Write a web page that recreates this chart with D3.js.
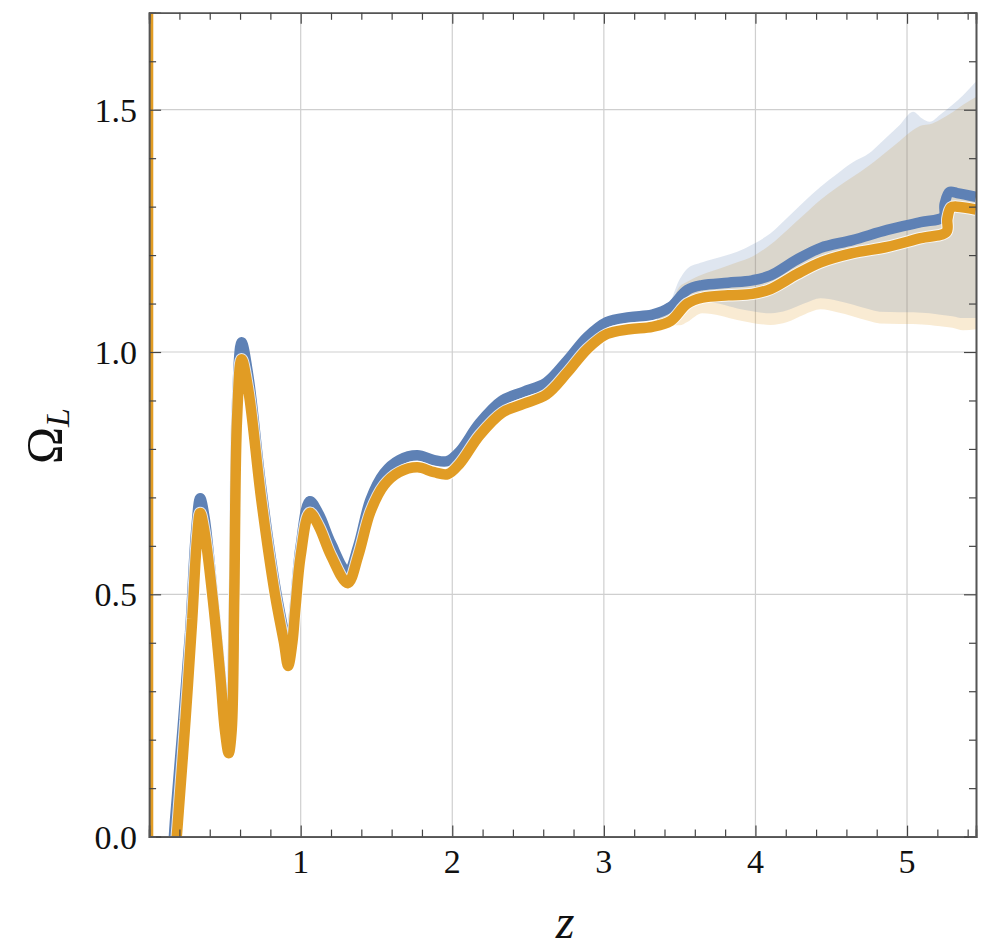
<!DOCTYPE html>
<html>
<head>
<meta charset="utf-8">
<script src="https://cdn.jsdelivr.net/npm/d3@7"></script>
<style>
  body { margin: 0; background: #fff; }
  text { fill: #111; }
</style>
</head>
<body>
<div id="chart"></div>
<script>
// series values
const blueZ = [0.155, 0.17, 0.22, 0.27, 0.31, 0.337, 0.365, 0.42, 0.47, 0.5, 0.522, 0.54, 0.56, 0.578, 0.61, 0.655, 0.74, 0.83, 0.89, 0.917, 0.94, 0.96, 1.0, 1.06, 1.12, 1.2, 1.31, 1.38, 1.46, 1.55, 1.65, 1.77, 1.88, 1.97, 2.05, 2.18, 2.33, 2.47, 2.62, 2.76, 2.89, 3.02, 3.17, 3.32, 3.44, 3.55, 3.65, 3.82, 3.98, 4.1, 4.27, 4.43, 4.64, 4.87, 5.09, 5.24, 5.248, 5.28, 5.33, 5.455];
const blueV = [-0.05, 0.03, 0.22, 0.42, 0.63, 0.698, 0.66, 0.5, 0.34, 0.24, 0.2, 0.24, 0.5, 0.88, 1.02, 0.95, 0.72, 0.52, 0.42, 0.38, 0.41, 0.47, 0.6, 0.692, 0.665, 0.605, 0.545, 0.6, 0.695, 0.75, 0.777, 0.787, 0.777, 0.775, 0.795, 0.853, 0.9, 0.918, 0.937, 0.983, 1.031, 1.062, 1.072, 1.077, 1.093, 1.128, 1.138, 1.143, 1.148, 1.158, 1.19, 1.215, 1.231, 1.252, 1.268, 1.279, 1.305, 1.33, 1.328, 1.32];

// null marks a break in the orange curve (it shoots off near z = 0)
const orangeZ = [-0.007, -0.007, null, 0.17, 0.19, 0.24, 0.285, 0.315, 0.337, 0.365, 0.42, 0.47, 0.5, 0.525, 0.545, 0.562, 0.58, 0.61, 0.655, 0.74, 0.83, 0.89, 0.917, 0.945, 0.965, 1.0, 1.06, 1.12, 1.2, 1.31, 1.38, 1.46, 1.55, 1.65, 1.77, 1.88, 1.97, 2.05, 2.18, 2.33, 2.47, 2.62, 2.76, 2.89, 3.02, 3.17, 3.32, 3.44, 3.55, 3.65, 3.82, 3.98, 4.1, 4.27, 4.43, 4.64, 4.87, 5.09, 5.26, 5.266, 5.29, 5.33, 5.455];
const orangeV = [1.8, -0.1, null, -0.05, 0.03, 0.24, 0.45, 0.61, 0.668, 0.63, 0.49, 0.33, 0.22, 0.172, 0.22, 0.5, 0.86, 0.985, 0.92, 0.695, 0.5, 0.4, 0.352, 0.4, 0.47, 0.58, 0.668, 0.64, 0.58, 0.523, 0.58, 0.67, 0.725, 0.752, 0.762, 0.752, 0.748, 0.77, 0.828, 0.875, 0.893, 0.912, 0.958, 1.006, 1.037, 1.047, 1.052, 1.064, 1.1, 1.112, 1.117, 1.12, 1.13, 1.16, 1.185, 1.204, 1.217, 1.235, 1.248, 1.275, 1.298, 1.3, 1.294];

// uncertainty bands
const bandZ = [3.35, 3.42, 3.5, 3.55, 3.65, 3.77, 3.88, 3.98, 4.1, 4.21, 4.32, 4.43, 4.54, 4.64, 4.75, 4.82, 4.95, 5.04, 5.1, 5.15, 5.22, 5.3, 5.37, 5.455];
const blueHi = [1.08, 1.092, 1.15, 1.172, 1.185, 1.196, 1.207, 1.222, 1.245, 1.277, 1.31, 1.341, 1.368, 1.391, 1.41, 1.43, 1.468, 1.496, 1.482, 1.475, 1.49, 1.51, 1.53, 1.558];
const blueLo = [1.06, 1.062, 1.07, 1.09, 1.104, 1.099, 1.09, 1.084, 1.08, 1.086, 1.1, 1.111, 1.106, 1.098, 1.088, 1.083, 1.082, 1.082, 1.081, 1.08, 1.077, 1.074, 1.07, 1.07];
const orangeHi = [1.075, 1.085, 1.135, 1.145, 1.16, 1.173, 1.185, 1.197, 1.222, 1.252, 1.283, 1.314, 1.34, 1.361, 1.385, 1.402, 1.435, 1.458, 1.468, 1.47, 1.48, 1.495, 1.51, 1.526];
const orangeLo = [1.055, 1.055, 1.055, 1.062, 1.08, 1.075, 1.066, 1.06, 1.056, 1.062, 1.077, 1.088, 1.082, 1.074, 1.064, 1.059, 1.058, 1.058, 1.057, 1.056, 1.053, 1.05, 1.045, 1.047];

// ticks
const xMajor = [1, 2, 3, 4, 5];
const xLabels = ["1", "2", "3", "4", "5"];
const yMajor = [0, 0.5, 1.0, 1.5];
const yLabels = ["0.0", "0.5", "1.0", "1.5"];
const xGrid = [1, 2, 3, 4, 5];
const yGrid = [0.5, 1.0, 1.5];

const width = 986, height = 949;
const blue = "#5e81b5", orange = "#e19c24";
const serif = "'Liberation Serif', 'Times New Roman', Times, serif";

const svg = d3.select("#chart").append("svg")
    .attr("width", width)
    .attr("height", height);

const x = d3.scaleLinear().domain([0, 5.455]).range([149.1, 976]);
const y = d3.scaleLinear().domain([0, 1.7]).range([836.6, 12.8]);

svg.append("defs").append("clipPath").attr("id", "plot")
  .append("rect")
    .attr("x", x(0)).attr("y", y(1.7))
    .attr("width", x(5.455) - x(0)).attr("height", y(0) - y(1.7));

// grid lines
svg.append("g").selectAll("line").data(xGrid).join("line")
    .attr("x1", d => x(d)).attr("x2", d => x(d))
    .attr("y1", y(0)).attr("y2", y(1.7))
    .attr("stroke", "#cfcfcf").attr("stroke-width", 1.2);
svg.append("g").selectAll("line").data(yGrid).join("line")
    .attr("x1", x(0)).attr("x2", x(5.455))
    .attr("y1", d => y(d)).attr("y2", d => y(d))
    .attr("stroke", "#cfcfcf").attr("stroke-width", 1.2);

const plot = svg.append("g").attr("clip-path", "url(#plot)");

// bands
const orangeBand = bandZ.map((z, i) => ({z, lo: orangeLo[i], hi: orangeHi[i]}));
const blueBand = bandZ.map((z, i) => ({z, lo: blueLo[i], hi: blueHi[i]}));
const area = d3.area()
    .x(d => x(d.z)).y0(d => y(d.lo)).y1(d => y(d.hi))
    .curve(d3.curveMonotoneX);

plot.append("path").datum(orangeBand)
    .attr("d", area).attr("fill", orange).attr("fill-opacity", 0.2);
plot.append("path").datum(blueBand)
    .attr("d", area).attr("fill", blue).attr("fill-opacity", 0.2);

// lines
const blueData = blueZ.map((z, i) => ({z, v: blueV[i]}));
const orangeData = orangeZ.map((z, i) => ({z, v: orangeV[i]}));
const line = d3.line()
    .defined(d => d.z !== null)
    .x(d => x(d.z)).y(d => y(d.v))
    .curve(d3.curveCatmullRom.alpha(0.5));

plot.append("path").datum(blueData)
    .attr("d", line).attr("fill", "none")
    .attr("stroke", blue).attr("stroke-width", 10.5)
    .attr("stroke-linejoin", "bevel");
plot.append("path").datum(orangeData)
    .attr("d", line).attr("fill", "none")
    .attr("stroke", "#fff").attr("stroke-width", 12.5)
    .attr("stroke-linejoin", "bevel").attr("stroke-opacity", 0.8);
plot.append("path").datum(orangeData)
    .attr("d", line).attr("fill", "none")
    .attr("stroke", orange).attr("stroke-width", 10.5)
    .attr("stroke-linejoin", "bevel");

// frame with inward ticks
const frame = svg.append("g");
const xMinor = d3.range(0.2, 5.45, 0.2).filter(d => Math.abs(d - Math.round(d)) > 0.01);
const yMinor = d3.range(0.1, 1.7, 0.1).filter(d => Math.abs(d * 2 - Math.round(d * 2)) > 0.01);

frame.append("g").attr("transform", `translate(0,${y(0)})`)
    .call(d3.axisBottom(x).tickValues(xMajor).tickSize(-11).tickFormat(""));
frame.append("g").attr("transform", `translate(0,${y(0)})`)
    .call(d3.axisBottom(x).tickValues(xMinor).tickSize(-7).tickFormat(""));
frame.append("g").attr("transform", `translate(0,${y(1.7)})`)
    .call(d3.axisTop(x).tickValues(xMajor).tickSize(-11).tickFormat(""));
frame.append("g").attr("transform", `translate(0,${y(1.7)})`)
    .call(d3.axisTop(x).tickValues(xMinor).tickSize(-7).tickFormat(""));
frame.append("g").attr("transform", `translate(${x(0)},0)`)
    .call(d3.axisLeft(y).tickValues(yMajor).tickSize(-12).tickFormat(""));
frame.append("g").attr("transform", `translate(${x(0)},0)`)
    .call(d3.axisLeft(y).tickValues(yMinor).tickSize(-7).tickFormat(""));
frame.append("g").attr("transform", `translate(${x(5.455)},0)`)
    .call(d3.axisRight(y).tickValues(yMajor).tickSize(-12).tickFormat(""));
frame.append("g").attr("transform", `translate(${x(5.455)},0)`)
    .call(d3.axisRight(y).tickValues(yMinor).tickSize(-7).tickFormat(""));
frame.selectAll(".domain").attr("stroke", "#555").attr("stroke-width", 1.6);
frame.selectAll(".tick line").attr("stroke", "#444").attr("stroke-width", 1.2);

// tick labels
svg.append("g").selectAll("text").data(xMajor).join("text")
    .attr("x", d => x(d)).attr("y", 873)
    .attr("text-anchor", "middle").attr("font-size", 34)
    .attr("font-family", serif)
    .text((d, i) => xLabels[i]);
svg.append("g").selectAll("text").data(yMajor).join("text")
    .attr("x", 137).attr("y", d => y(d) + 12)
    .attr("text-anchor", "end").attr("font-size", 34)
    .attr("font-family", serif)
    .text((d, i) => yLabels[i]);

// axis titles
svg.append("text")
    .attr("x", 565).attr("y", 938)
    .attr("text-anchor", "middle").attr("font-size", 48)
    .attr("font-family", serif).attr("font-style", "italic")
    .text("z");

const yt = svg.append("text")
    .attr("transform", "translate(61,436) rotate(-90)")
    .attr("text-anchor", "middle").attr("font-size", 50)
    .attr("font-family", serif);
yt.append("tspan").text("Ω");
yt.append("tspan").attr("font-size", 34).attr("font-style", "italic").attr("dy", 8).text("L");
</script>
</body>
</html>
